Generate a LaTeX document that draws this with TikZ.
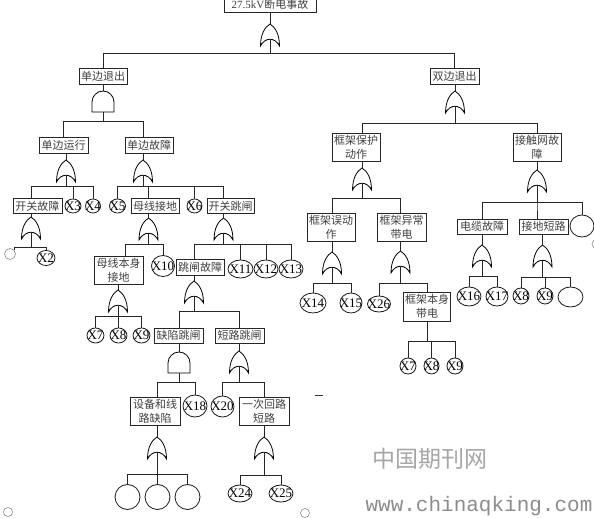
\documentclass[tikz,border=0pt]{standalone}
\usepackage{fontspec}
\setmainfont{Liberation Serif}
\newfontfamily\cjk{Noto Sans CJK SC}
\newfontfamily\urlmono{Liberation Mono}
\usetikzlibrary{shapes.geometric}
\newcommand\xl[1]{\makebox[0pt]{#1}}
\newcommand\drop[3]{\draw[ln] (#1) -- (#1 |- 0,#2) -| (#3);}
\tikzset{
  ln/.style={draw=black!85, line width=1pt},
  bx/.style={draw=black!85, line width=0.9pt, rectangle, inner sep=0pt, align=center, text=black!75, font=\cjk\fontsize{11}{14}\selectfont},
  ev/.style={ellipse, draw=black!90, line width=0.8pt, inner sep=0pt, font=\fontsize{13}{13}\selectfont},
  sz/.style 2 args={minimum width=#1, minimum height=#2},
  gc/.style={circle, draw=black!45, line width=0.6pt, inner sep=0pt, minimum size=11},
  orgate/.pic={
    \draw[line width=0.8pt] (0,0) .. controls (-5,3) and (-9.5,10) .. (-9.5,22) .. controls (-5,13) and (5,13) .. (9.5,22) .. controls (9.5,10) and (5,3) .. (0,0) -- cycle;
    \coordinate (-t) at (0,0);
    \coordinate (-b) at (0,15.25);
  },
  andgate/.pic={
    \draw[line width=0.8pt] (-11,21) -- (-11,11) .. controls (-11,5) and (-6,0) .. (0,0) .. controls (6,0) and (11,5) .. (11,11) -- (11,21) -- cycle;
    \coordinate (-t) at (0,0);
    \coordinate (-b) at (0,21);
  },
}
\begin{document}
\begin{tikzpicture}[x=1pt,y=-1pt]
\useasboundingbox (0,0) rectangle (594,518);
% ---------- left branch ----------
\node[bx, sz={92}{16}] (T) at (270,4) {\rmfamily 27.5kV\cjk 断电事故};
\pic (g0) at (270,24) {orgate};
\node[bx, sz={48}{16}] (A) at (103,76) {单边退出};
\node[bx, sz={49}{16}] (B) at (454.5,76) {双边退出};
\pic (g1) at (103,91) {andgate};
\node[bx, sz={49}{16}] (C) at (63.5,145) {单边运行};
\node[bx, sz={48}{16}] (D) at (149,145) {单边故障};
\pic (g2) at (66,160) {orgate};
\pic (g3) at (143,160) {orgate};
\node[bx, sz={49}{15}] (E) at (37.5,206) {开关故障};
\node[ev, sz={16}{14}] (X3) at (73,206) {\xl{X3}};
\node[ev, sz={15}{14}] (X4) at (93,206) {\xl{X4}};
\node[ev, sz={16}{14}] (X5) at (117.5,206) {\xl{X5}};
\node[bx, sz={48}{15}] (F) at (155,206) {母线接地};
\node[ev, sz={15}{14}] (X6) at (194.5,206) {\xl{X6}};
\node[bx, sz={47}{15}] (G) at (230.5,206) {开关跳闸};
\pic (g4) at (31,217) {orgate};
\pic (g5) at (148.5,218) {orgate};
\pic (g6) at (223.5,218) {orgate};
\node[gc] (sc1) at (10,254) {};
\node[ev, sz={18}{15}] (X2) at (46,258) {\xl{X2}};
\node[bx, sz={49}{28}] (H) at (118.5,270) {母线本身\\接地};
\node[ev, sz={23}{21}] (X10) at (163,266) {\xl{X10}};
\node[bx, sz={48}{16}] (I) at (200,267) {跳闸故障};
\node[ev, sz={25}{18}] (X11) at (240.5,269) {\xl{X11}};
\node[ev, sz={24}{18}] (X12) at (266,269) {\xl{X12}};
\node[ev, sz={24}{18}] (X13) at (291,269) {\xl{X13}};
\pic (g7) at (118,290) {orgate};
\pic (g8) at (194,281) {orgate};
\node[ev, sz={17}{15}] (X7L) at (95.5,335.5) {\xl{X7}};
\node[ev, sz={17}{15}] (X8L) at (118.5,335.5) {\xl{X8}};
\node[ev, sz={17}{15}] (X9L) at (141.5,335.5) {\xl{X9}};
\node[bx, sz={49}{15}] (J) at (178.5,335.5) {缺陷跳闸};
\node[bx, sz={49}{15}] (K) at (239.5,335.5) {短路跳闸};
\pic (g9) at (179,352) {andgate};
\pic (g10) at (239,351) {orgate};
\node[bx, sz={50}{28}] (L) at (155,411) {设备和线\\路缺陷};
\node[ev, sz={24}{22}] (X18) at (195,406) {\xl{X18}};
\node[ev, sz={23}{21}] (X20) at (222.5,406.5) {\xl{X20}};
\node[bx, sz={50}{28}] (M) at (264,411) {一次回路\\短路};
\pic (g11) at (157,437) {orgate};
\pic (g12) at (264,437) {orgate};
\node[ev, sz={25}{25}] (E1) at (127.5,497) {};
\node[ev, sz={25}{25}] (E2) at (157.5,497) {};
\node[ev, sz={25}{25}] (E3) at (187.5,497) {};
\node[ev, sz={24}{17}] (X24) at (240,493.5) {\xl{X24}};
\node[ev, sz={24}{17}] (X25) at (281,493.5) {\xl{X25}};
% ---------- right branch ----------
\pic (g13) at (455,91) {orgate};
\node[bx, sz={48}{28}] (N) at (356,147) {框架保护\\动作};
\node[bx, sz={48}{28}] (O) at (537,147) {接触网故\\障};
\pic (g14) at (362,168) {orgate};
\pic (g15) at (537,170) {orgate};
\node[bx, sz={48}{28}] (P) at (331,227) {框架误动\\作};
\node[bx, sz={49}{28}] (Q) at (401.5,227) {框架异常\\带电};
\node[bx, sz={50}{15}] (S) at (482,226.5) {电缆故障};
\node[bx, sz={49}{15}] (U) at (543.5,226.5) {接地短路};
\node[ev, sz={24}{22}] (E5) at (582,226) {};
\pic (g16) at (332,252) {orgate};
\pic (g17) at (400.5,251) {orgate};
\pic (g18) at (482,245) {orgate};
\pic (g19) at (542.5,245) {orgate};
\node[ev, sz={26}{20}] (X14) at (313,303) {\xl{X14}};
\node[ev, sz={22}{20}] (X15) at (351,303) {\xl{X15}};
\node[ev, sz={23}{16}] (X26) at (379,304) {\xl{X26}};
\node[bx, sz={47}{29}] (R) at (427,306.5) {框架本身\\带电};
\node[ev, sz={16}{16}] (X7R) at (408,366) {\xl{X7}};
\node[ev, sz={15}{16}] (X8R) at (431.5,366) {\xl{X8}};
\node[ev, sz={16}{16}] (X9R) at (455,366) {\xl{X9}};
\node[ev, sz={24}{19}] (X16) at (469,296.5) {\xl{X16}};
\node[ev, sz={22}{19}] (X17) at (497,296.5) {\xl{X17}};
\node[ev, sz={16}{16}] (X8b) at (521,296) {\xl{X8}};
\node[ev, sz={16}{16}] (X9b) at (545,296) {\xl{X9}};
\node[ev, sz={25}{20}] (E4) at (570.5,297) {};
% ---------- stray marks ----------
\node[gc, minimum size=9] (sc2) at (8,512) {};
\node[gc, minimum size=9] (sc3) at (305,513) {};
\node[gc, minimum size=10] (sc4) at (597,244) {};
\draw[black!80, line width=1pt] (315,395) -- (323,395);
% ---------- watermark ----------
\node[text=black!35, font=\cjk\fontsize{23}{23}\selectfont, inner sep=0pt] (wm1) at (430,459) {中国期刊网};
\node[text=black!45, font=\urlmono\fontsize{21}{21}\selectfont, inner sep=0pt] (wm2) at (479,506) {www.chinaqking.com};
% ---------- connectors ----------
\draw[ln] (T.south) -- (g0-t);
\drop{g0-b}{54}{A.north}
\drop{g0-b}{54}{B.north}
\draw[ln] (A.south) -- (g1-t);
\draw[ln] (B.south -| g13-t) -- (g13-t);
\drop{g1-b}{122}{C.north}
\drop{g1-b}{122}{D.north -| g3-t}
\draw[ln] (C.south -| g2-t) -- (g2-t);
\draw[ln] (D.south -| g3-t) -- (g3-t);
\drop{g2-b}{187}{E.north -| g4-t}
\drop{g2-b}{187}{X3.north}
\drop{g2-b}{187}{X4.north}
\drop{g3-b}{187}{X5.north}
\drop{g3-b}{187}{F.north -| g5-t}
\drop{g3-b}{187}{X6.north}
\drop{g3-b}{187}{G.north -| g6-t}
\draw[ln] (E.south -| g4-t) -- (g4-t);
\draw[ln] (F.south -| g5-t) -- (g5-t);
\draw[ln] (G.south -| g6-t) -- (g6-t);
\drop{g4-b}{248}{sc1.north east}
\drop{g4-b}{248}{X2.north}
\drop{g5-b}{245}{H.north -| 125,0}
\drop{g5-b}{245}{X10.north}
\drop{g6-b}{245}{I.north -| g8-t}
\drop{g6-b}{245}{X11.north}
\drop{g6-b}{245}{X12.north}
\drop{g6-b}{245}{X13.north}
\draw[ln] (H.south -| g7-t) -- (g7-t);
\draw[ln] (I.south -| g8-t) -- (g8-t);
\drop{g7-b}{317}{X7L.north}
\drop{g7-b}{317}{X8L.north}
\drop{g7-b}{317}{X9L.north}
\drop{g8-b}{312}{J.north -| g9-t}
\drop{g8-b}{312}{K.north -| g10-t}
\draw[ln] (J.south -| g9-t) -- (g9-t);
\draw[ln] (K.south -| g10-t) -- (g10-t);
\drop{g9-b}{382}{L.north -| g11-t}
\drop{g9-b}{382}{X18.north}
\drop{g10-b}{382}{X20.north}
\drop{g10-b}{382}{M.north -| g12-t}
\draw[ln] (L.south -| g11-t) -- (g11-t);
\draw[ln] (M.south -| g12-t) -- (g12-t);
\drop{g11-b}{474}{E1.north}
\drop{g11-b}{474}{E2.north}
\drop{g11-b}{474}{E3.north}
\drop{g12-b}{475}{X24.north}
\drop{g12-b}{475}{X25.north}
\drop{g13-b}{124}{N.north -| g14-t}
\drop{g13-b}{124}{O.north -| g15-t}
\draw[ln] (N.south -| g14-t) -- (g14-t);
\draw[ln] (O.south -| g15-t) -- (g15-t);
\drop{g14-b}{199}{P.north -| g16-t}
\drop{g14-b}{199}{Q.north -| g17-t}
\draw[ln] (P.south -| g16-t) -- (g16-t);
\draw[ln] (Q.south -| g17-t) -- (g17-t);
\drop{g15-b}{203}{S.north -| g18-t}
\drop{g15-b}{203}{U.north -| g15-t}
\drop{g15-b}{203}{E5.north}
\draw[ln] (S.south -| g18-t) -- (g18-t);
\draw[ln] (U.south -| g19-t) -- (g19-t);
\drop{g16-b}{284}{X14.north}
\drop{g16-b}{284}{X15.north}
\drop{g17-b}{284}{X26.north}
\drop{g17-b}{284}{R.north}
\drop{R.south}{342}{X7R.north}
\drop{R.south}{342}{X8R.north}
\drop{R.south}{342}{X9R.north}
\drop{g18-b}{277}{X16.north}
\drop{g18-b}{277}{X17.north}
\drop{g19-b}{278}{X8b.north}
\drop{g19-b}{278}{X9b.north}
\drop{g19-b}{278}{E4.north}
\end{tikzpicture}
\end{document}
